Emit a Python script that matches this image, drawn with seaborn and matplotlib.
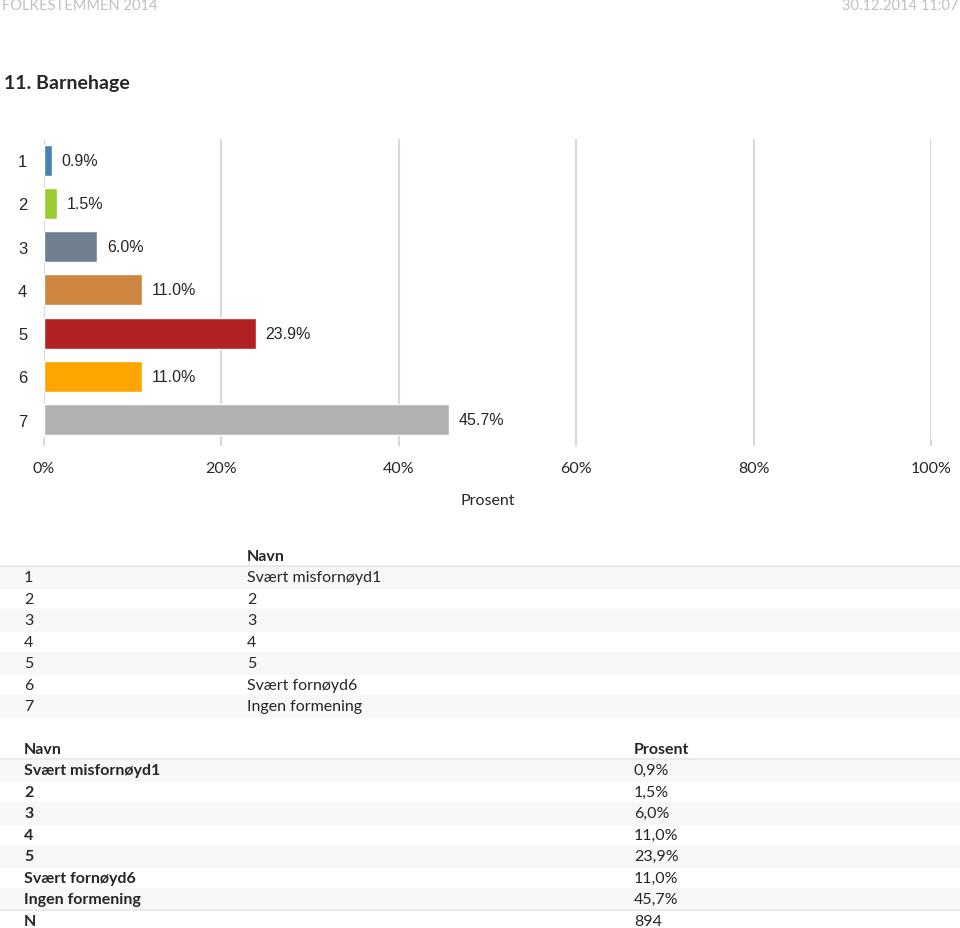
import pandas as pd
import seaborn as sns
import matplotlib.pyplot as plt
from matplotlib.patches import Rectangle

# data
kategorier = ["1", "2", "3", "4", "5", "6", "7"]
prosent = [0.9, 1.5, 6.0, 11.0, 23.9, 11.0, 45.7]
navn = ["Svært misfornøyd1", "2", "3", "4", "5", "Svært fornøyd6", "Ingen formening"]
prosent_tekst = ["0,9%", "1,5%", "6,0%", "11,0%", "23,9%", "11,0%", "45,7%"]
antall_n = "894"
farger = ["#4682B4", "#9ACD32", "#708090", "#CD853F", "#B22222", "#FFA500", "#B2B2B2"]
xticks = [0, 20, 40, 60, 80, 100]

sns.set_theme(style="white")
plt.rcParams["font.family"] = ["Lato", "DejaVu Sans"]

W, H = 960, 929
fig = plt.figure(figsize=(W / 100, H / 100), dpi=100)

def fx(px):
    return px / W

def fy(py):
    return 1 - py / H

# header
fig.text(fx(2), fy(6), "FOLKESTEMMEN 2014", color="#c0c0c0", fontsize=10.5, va="center")
fig.text(fx(958), fy(6), "30.12.2014 11:07", color="#c0c0c0", fontsize=10.5, va="center", ha="right")
fig.text(fx(4), fy(84), "11. Barnehage", fontsize=14, fontweight="bold", va="center")

# bar chart
ax = fig.add_axes([fx(44), fy(440), fx(931) - fx(44), fy(140) - fy(440)])
df = pd.DataFrame({"kat": kategorier, "prosent": prosent})
sns.barplot(data=df, x="prosent", y="kat", hue="kat", palette=farger, orient="h",
            width=0.72, legend=False, ax=ax, saturation=1)
ax.set_xlim(0, 100)
ax.set_ylim(6.45, -0.49)
for s in ax.spines.values():
    s.set_visible(False)
for t in xticks:
    ax.axvline(t, color="#d9d9d9", lw=1.5, zorder=0)
ax.set_xticks(xticks)
ax.set_xticklabels([f"{t}%" for t in xticks], fontsize=11.5)
ax.tick_params(axis="x", length=5, color="#d9d9d9", width=1.5, pad=11, bottom=True)
ax.tick_params(axis="y", length=0, pad=12)
for lab in ax.get_yticklabels():
    lab.set_family("Liberation Sans")
    lab.set_fontsize(12)
ax.set_xlabel("Prosent", fontsize=11.5, labelpad=13)
ax.set_ylabel("")
for cont in ax.containers:
    ax.bar_label(cont, labels=[f"{v:.1f}%" for v in cont.datavalues], padding=7,
                 fontsize=11.5, family="Liberation Sans")

# table 1
def stripe(y0, y1):
    fig.patches.append(Rectangle((0, fy(y1)), 1, fy(y0) - fy(y1), transform=fig.transFigure,
                                 color="#f7f7f7", zorder=0))

def hline(y):
    fig.add_artist(plt.Line2D([0, 1], [fy(y), fy(y)], transform=fig.transFigure,
                              color="#e8e8e8", lw=1.2))

fs = 11.5
fig.text(fx(247), fy(557), "Navn", fontsize=fs, fontweight="bold", va="center")
hline(567)
rad_y = [578, 600, 621, 643, 664, 686, 707]
for i, (k, n) in enumerate(zip(kategorier, navn)):
    if i % 2 == 0:
        stripe(rad_y[i] - 11, rad_y[i] + 11)
    fig.text(fx(24), fy(rad_y[i]), k, fontsize=fs, va="center")
    fig.text(fx(247), fy(rad_y[i]), n, fontsize=fs, va="center")

# table 2
fig.text(fx(24), fy(750), "Navn", fontsize=fs, fontweight="bold", va="center")
fig.text(fx(634), fy(750), "Prosent", fontsize=fs, fontweight="bold", va="center")
hline(760)
rad_y2 = [771, 793, 814, 836, 857, 879, 900]
for i, (n, p) in enumerate(zip(navn, prosent_tekst)):
    if i % 2 == 0:
        stripe(rad_y2[i] - 11, rad_y2[i] + 11)
    fig.text(fx(24), fy(rad_y2[i]), n, fontsize=fs, fontweight="bold", va="center")
    fig.text(fx(634), fy(rad_y2[i]), p, fontsize=fs, va="center")
hline(911)
fig.text(fx(24), fy(922), "N", fontsize=fs, fontweight="bold", va="center")
fig.text(fx(634), fy(922), antall_n, fontsize=fs, va="center")

fig.savefig("out.png", dpi=100, facecolor="white")
